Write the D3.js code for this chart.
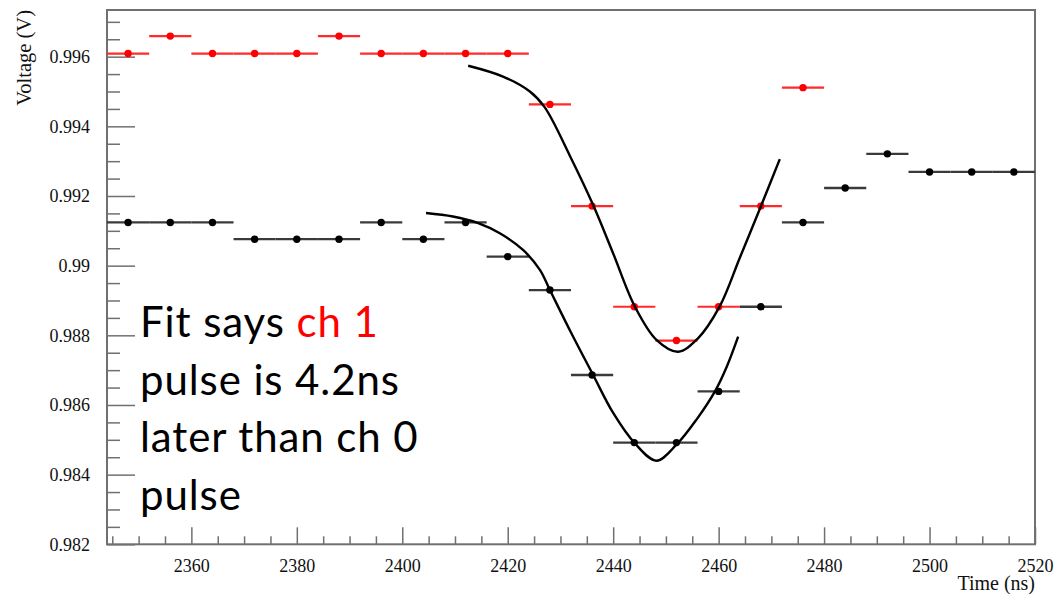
<!DOCTYPE html>
<html>
<head>
<meta charset="utf-8">
<script src="https://cdn.jsdelivr.net/npm/d3@7"></script>
<style>
  html, body { margin: 0; padding: 0; background: #fff; }
  svg { display: block; }
</style>
</head>
<body>
<svg id="chart" width="1055" height="594"></svg>
<script>
// ---------------- data ----------------
const binHalfWidth = 4; // ns, horizontal error bar half-width

const ch1Times = [2348, 2356, 2364, 2372, 2380, 2388, 2396, 2404, 2412, 2420, 2428, 2436, 2444, 2452, 2460, 2468, 2476];
const ch1Volts = [0.99609, 0.99659, 0.99609, 0.99609, 0.99609, 0.99659, 0.99609, 0.99609, 0.99609, 0.99609,
                  0.99463, 0.99171, 0.98882, 0.98785, 0.98882, 0.99171, 0.99511];

const ch0Times = [2348, 2356, 2364, 2372, 2380, 2388, 2396, 2404, 2412, 2420, 2428, 2436, 2444, 2452, 2460, 2468,
                  2476, 2484, 2492, 2500, 2508, 2516];
const ch0Volts = [0.99124, 0.99124, 0.99124, 0.99076, 0.99076, 0.99076, 0.99124, 0.99076, 0.99124, 0.99026,
                  0.98930, 0.98686, 0.98492, 0.98492, 0.98639, 0.98882, 0.99124, 0.99223, 0.99321, 0.99269,
                  0.99269, 0.99269];

// fit curves
const fit1Times = [2412.5, 2419.1, 2424.2, 2427.0, 2431.8, 2436.2, 2440.0, 2444.1, 2448.2, 2452.3,
                   2456.0, 2460.2, 2464.0, 2468.0, 2471.6];
const fit1Volts = [0.99574, 0.99543, 0.99500, 0.99455, 0.99315, 0.99174, 0.99035, 0.98883, 0.98787, 0.98753,
                   0.98790, 0.98883, 0.99022, 0.99170, 0.99306];

const fit0Times = [2404.5, 2409.6, 2414.4, 2418.5, 2422.9, 2426.1, 2428.0, 2432.0, 2436.2, 2440.0, 2444.1, 2448.2,
                   2452.0, 2455.8, 2459.3, 2461.6, 2463.7];
const fit0Volts = [0.99151, 0.99141, 0.99122, 0.99093, 0.99045, 0.98988, 0.98930, 0.98808, 0.98686, 0.98577,
                   0.98490, 0.98440, 0.98486, 0.98558, 0.98639, 0.98712, 0.98796];

const xTicks = [2360, 2380, 2400, 2420, 2440, 2460, 2480, 2500, 2520];
const xTickLabels = ["2360", "2380", "2400", "2420", "2440", "2460", "2480", "2500", "2520"];
const yTicks = [0.982, 0.984, 0.986, 0.988, 0.990, 0.992, 0.994, 0.996];
const yTickLabels = ["0.982", "0.984", "0.986", "0.988", "0.99", "0.992", "0.994", "0.996"];

const xTitle = "Time (ns)";
const yTitle = "Voltage (V)";
const noteLines = [
  [{t: "Fit says ", c: "#000"}, {t: "ch 1", c: "#ff0000"}],
  [{t: "pulse is 4.2ns", c: "#000"}],
  [{t: "later than ch 0", c: "#000"}],
  [{t: "pulse", c: "#000"}]
];

// ---------------- layout ----------------
const L = 107, R = 1035, T = 10, B = 544.3;
const svg = d3.select("#chart");

const x = d3.scaleLinear().domain([2344, 2520]).range([L, R]);
const y = d3.scaleLinear().domain([0.982, 0.99734]).range([B, T]);

const axisColor = "#707070";
const serif = "'Liberation Serif', 'Times New Roman', 'DejaVu Serif', serif";

// minor ticks
const xMinor = d3.range(2345, 2521, 5).filter(v => v % 20 !== 0);
const yMinor = d3.range(0, 31).map(i => +(0.982 + i * 0.0005).toFixed(4))
  .filter(v => v <= 0.9973 && !yTicks.some(t => Math.abs(t - v) < 1e-6));

const gx = svg.append("g").attr("transform", `translate(0,${B})`);
gx.call(d3.axisBottom(x).tickValues(xMinor).tickSize(-8).tickFormat(""));
gx.append("g").call(d3.axisBottom(x).tickValues(xTicks).tickSize(-17).tickPadding(15)
    .tickFormat((d, i) => xTickLabels[i]));
gx.selectAll(".domain").remove();
gx.selectAll("line").attr("stroke", axisColor).attr("stroke-width", 1.5);
gx.selectAll("text").style("font-family", serif).style("font-size", "18px").attr("fill", "#111");

const gy = svg.append("g").attr("transform", `translate(${L},0)`);
gy.call(d3.axisLeft(y).tickValues(yMinor).tickSize(-13).tickFormat(""));
gy.append("g").call(d3.axisLeft(y).tickValues(yTicks).tickSize(-28).tickPadding(17)
    .tickFormat((d, i) => yTickLabels[i]));
gy.selectAll(".domain").remove();
gy.selectAll("line").attr("stroke", axisColor).attr("stroke-width", 1.5);
gy.selectAll("text").style("font-family", serif).style("font-size", "18px").attr("fill", "#111");

// frame
svg.append("rect").attr("x", L).attr("y", T).attr("width", R - L).attr("height", B - T)
  .attr("fill", "none").attr("stroke", axisColor).attr("stroke-width", 2);

// titles
svg.append("text").attr("x", R).attr("y", 590).attr("text-anchor", "end")
  .style("font-family", serif).style("font-size", "20px").attr("fill", "#111").text(xTitle);
svg.append("text").attr("transform", `translate(31,${T}) rotate(-90)`).attr("text-anchor", "end")
  .style("font-family", serif).style("font-size", "20.5px").attr("fill", "#111").text(yTitle);

// series
function drawSeries(times, volts, lineColor, dotColor, lw) {
  const g = svg.append("g");
  const data = times.map((t, i) => ({t, v: volts[i]}));
  g.selectAll("line").data(data).enter().append("line")
    .attr("x1", d => x(d.t - binHalfWidth)).attr("x2", d => x(d.t + binHalfWidth))
    .attr("y1", d => y(d.v)).attr("y2", d => y(d.v))
    .attr("stroke", lineColor).attr("stroke-width", lw);
  g.selectAll("circle").data(data).enter().append("circle")
    .attr("cx", d => x(d.t)).attr("cy", d => y(d.v)).attr("r", 3.7).attr("fill", dotColor);
}
drawSeries(ch1Times, ch1Volts, "#ff2a2a", "#ff0000", 2.2);
drawSeries(ch0Times, ch0Volts, "#3a3a3a", "#000", 2.3);

// fit curves
const line = d3.line().x(d => x(d[0])).y(d => y(d[1])).curve(d3.curveCatmullRom.alpha(0.5));
[[fit1Times, fit1Volts], [fit0Times, fit0Volts]].forEach(([ts, vs]) => {
  svg.append("path").datum(ts.map((t, i) => [t, vs[i]])).attr("d", line)
    .attr("fill", "none").attr("stroke", "#000").attr("stroke-width", 2.4);
});

// annotation
const note = svg.append("text").style("font-family", "Lato, 'Open Sans', sans-serif")
  .style("font-size", "42px").style("letter-spacing", "0.9px");
const baselines = [336.7, 394.5, 452, 509.5];
noteLines.forEach((parts, i) => {
  const tl = note.append("tspan").attr("x", 140).attr("y", baselines[i]);
  parts.forEach(p => tl.append("tspan").attr("fill", p.c).text(p.t));
});
</script>
</body>
</html>
